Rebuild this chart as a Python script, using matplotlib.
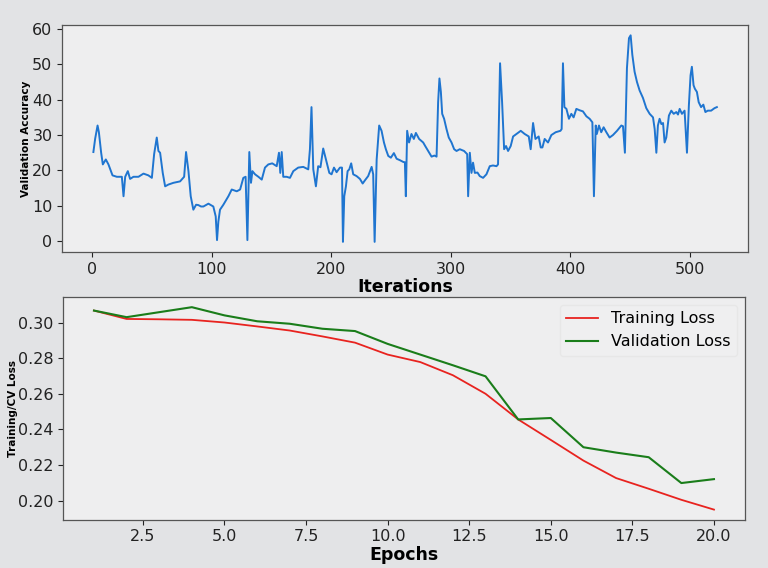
import matplotlib
matplotlib.use("Agg")
import matplotlib.pyplot as plt

# ---- Top panel: validation accuracy vs iterations ----
iter_x = [1, 2.5, 4.5, 5.6, 7.5, 8.9, 11.4, 13.6, 17, 20.6, 24.8, 26.2, 27.6, 29.8, 31.7,
          34.5, 38.7, 42.9, 47, 49.9, 51.8, 54, 55.4, 56.8, 59, 61, 63.7, 68, 73.5, 76.9,
          78.5, 80.5, 82.4, 84.6, 86.9, 88.8, 91, 93, 97.2, 101.3, 103.3, 104.4, 105.5,
          106.9, 109.7, 113.9, 116.7, 120.9, 123.7, 126.4, 128.3, 129.8, 131.4, 132.8,
          134, 136.2, 139, 141.8, 144.5, 147.3, 150.6, 154.3, 156.2, 157.3, 158.5, 159.8,
          162.6, 165.4, 168.2, 172.3, 176.5, 180.7, 182.1, 183.4, 184.9, 187.1, 189,
          190.9, 193.2, 195.5, 198.3, 200.2, 202.2, 204.4, 207.2, 208.9, 209.7, 210.8,
          212.2, 213.6, 215, 216.6, 218.3, 221.1, 223.9, 226.2, 228.1, 230.8, 233.7, 235,
          236.2, 237.9, 240, 242, 244, 245.6, 247.6, 249.8, 252.3, 254.6, 257.3, 260.1,
          261.5, 262.3, 263.4, 265, 267, 269, 270.7, 273.4, 276.8, 278.5, 281, 283.8,
          286.2, 288, 289.3, 290.4, 291.6, 292.7, 294.3, 296.3, 298.2, 300.5, 302.7,
          304.7, 307.4, 311, 313.6, 314.4, 315.8, 317.2, 318.5, 320, 322.2, 324.1, 326.9,
          329.7, 332.5, 335.2, 338.1, 339.4, 341.1, 342.8, 344.5, 346.1, 347.8, 350, 352,
          354.8, 358.4, 361.7, 365.1, 366.7, 368.7, 370.7, 373.4, 375.1, 376.5, 378.4,
          381.2, 384, 387.6, 391.6, 392.6, 393.7, 394.9, 396.6, 398.7, 400.7, 402.6,
          404.9, 407.7, 410.4, 413.3, 416, 418.3, 419.6, 421.1, 422, 423.8, 425.7, 427.7,
          430, 432.7, 435.5, 438.9, 442.5, 443.9, 445.5, 447.2, 448.9, 450.3, 451.7,
          453.6, 455.6, 457.8, 460.6, 463.4, 466.2, 469, 470.4, 471.8, 473.1, 474.5, 476,
          477.4, 478.7, 480.1, 482.3, 484.3, 486.3, 488.5, 489.9, 491.3, 493.2, 495.4,
          497.4, 499, 500.4, 501.5, 502.9, 504, 505.7, 507.2, 509.2, 511.1, 512.8, 514.8,
          517.6, 520.4, 522.4]
val_acc = [25.2, 29, 32.7, 30.8, 25, 21.7, 23.1, 21.7, 18.6, 18.2, 18.2, 12.7, 18.2, 19.8,
           17.6, 18.2, 18.2, 19.1, 18.6, 17.9, 24.6, 29.3, 25.5, 25, 19.3, 15.5, 16, 16.5,
           16.9, 18.2, 25.2, 19.8, 12.7, 8.9, 10.3, 10.2, 9.8, 9.8, 10.6, 9.8, 7, 0.3, 5.5,
           8.9, 10.3, 12.7, 14.6, 14.1, 14.6, 17.9, 18.2, 0.3, 25.2, 16.5, 19.8, 18.9, 18.2,
           17.4, 20.8, 21.7, 22, 21.2, 25, 19.3, 25.2, 18.2, 18.2, 17.9, 19.8, 20.8, 21,
           20.3, 26, 37.9, 20.3, 15.5, 21.2, 20.9, 26.2, 23.1, 19.3, 18.9, 20.8, 19.5, 20.8,
           20.8, -0.2, 12.7, 15.5, 19.8, 20.3, 22, 18.9, 18.4, 17.6, 16.3, 17.2, 18.4, 21,
           18.9, -0.2, 23.1, 32.7, 31.2, 27.9, 26, 24.1, 23.6, 24.9, 23.3, 22.9, 22.4, 22.3,
           12.7, 31.2, 27.9, 30.3, 28.9, 30.6, 28.9, 27.9, 26.9, 25.5, 23.9, 24.2, 23.9,
           39.3, 46, 42.2, 36, 34.6, 31.7, 29.3, 27.9, 26, 25.5, 26, 25.5, 24.6, 12.7, 25,
           19.3, 22.2, 19.3, 19.4, 18.4, 17.9, 18.9, 21.2, 21.4, 21.2, 21.7, 50.3, 39.3, 26,
           26.9, 25.5, 26.9, 29.6, 30.3, 31.2, 30.3, 29.6, 26, 33.4, 28.9, 29.6, 26.5, 26.5,
           28.9, 27.9, 30, 30.8, 31.2, 31.7, 50.3, 37.9, 37.4, 34.6, 36, 35, 37.4, 37, 36.7,
           35.3, 34.6, 33.6, 12.7, 32.7, 30.3, 32.7, 30.8, 32.2, 30.8, 29.3, 30, 31.2, 32.7,
           32.5, 25, 48.9, 57.4, 58.2, 52.7, 47.9, 45, 42.6, 40.5, 37.6, 36, 35, 31.7, 25,
           32.7, 34.6, 33.1, 33.4, 27.9, 29.3, 35.5, 36.9, 36, 36.5, 35.8, 37.4, 36, 36.9,
           25, 38.4, 46.9, 49.3, 44.1, 43.1, 42.2, 39.3, 37.9, 38.6, 36.5, 36.9, 36.9,
           37.6, 37.9]

# ---- Bottom panel: losses vs epochs ----
epochs = list(range(1, 21))
train_loss = [0.3067, 0.3020, 0.3018, 0.3015, 0.3000, 0.2978, 0.2955, 0.2922, 0.2887,
              0.2820, 0.2778, 0.2704, 0.2600, 0.2456, 0.2341, 0.2225, 0.2127, 0.2067,
              0.2005, 0.1950]
val_loss = [0.3067, 0.3030, 0.3058, 0.3086, 0.3040, 0.3007, 0.2993, 0.2965, 0.2952,
            0.2880, 0.2820, 0.2760, 0.2698, 0.2456, 0.2464, 0.2300, 0.2270, 0.2244,
            0.2099, 0.2121]

fig = plt.figure(figsize=(7.68, 5.68), dpi=100, facecolor="#e2e3e5")

ax1 = fig.add_axes([0.081, 0.556, 0.893, 0.400])
ax2 = fig.add_axes([0.082, 0.085, 0.888, 0.392])
for ax in (ax1, ax2):
    ax.set_facecolor("#eeeeef")
    for s in ax.spines.values():
        s.set_color("#555555")
        s.set_linewidth(0.9)
    ax.tick_params(labelsize=11.5, colors="#222222")

ax1.plot(iter_x, val_acc, color="#1f75d0", linewidth=1.4)
ax1.set_xticks([0, 100, 200, 300, 400, 500])
ax1.set_yticks([0, 10, 20, 30, 40, 50, 60])
ax1.set_xlabel("Iterations", fontsize=12.5, fontweight="bold", labelpad=1)
ax1.set_ylabel("Validation Accuracy", fontsize=7.5, fontweight="bold")
ax1.yaxis.set_label_coords(-0.046, 0.5)

ax2.plot(epochs, train_loss, color="#e8231f", linewidth=1.3, label="Training Loss")
ax2.plot(epochs, val_loss, color="#1a7d1a", linewidth=1.5, label="Validation Loss")
ax2.set_xticks([2.5, 5.0, 7.5, 10.0, 12.5, 15.0, 17.5, 20.0])
ax2.set_yticks([0.20, 0.22, 0.24, 0.26, 0.28, 0.30])
ax2.set_xlabel("Epochs", fontsize=12.5, fontweight="bold", labelpad=1)
ax2.set_ylabel("Training/CV Loss", fontsize=7.5, fontweight="bold")
ax2.yaxis.set_label_coords(-0.066, 0.5)
leg = ax2.legend(loc="upper right", fontsize=11.5, frameon=True)
leg.get_frame().set_facecolor("#f0f0f1")
leg.get_frame().set_edgecolor("#e6e6e6")

fig.savefig("out.png", dpi=100, facecolor=fig.get_facecolor())
